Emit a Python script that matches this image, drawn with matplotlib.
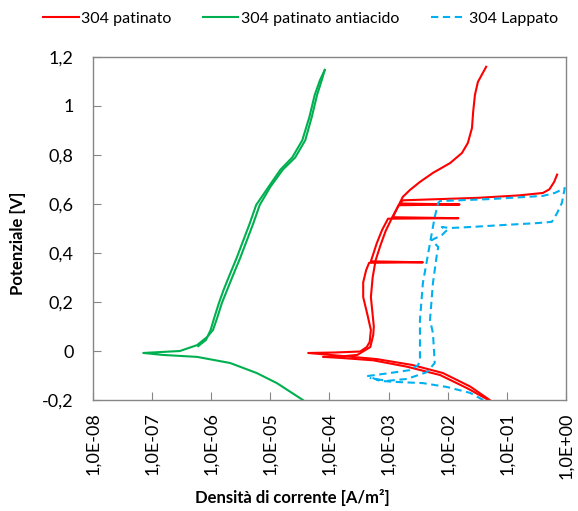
import numpy as np
import matplotlib
matplotlib.use("Agg")
import matplotlib.pyplot as plt
from matplotlib.ticker import FixedLocator, FixedFormatter

plt.rcParams['font.family'] = ['Lato', 'DejaVu Sans']

# log10 della densità di corrente [A/m2] e potenziale [V]
# 304 patinato: ramo A (catodico + anodico con picchi) e ramo B (ritorno)
red_a_log = [-1.29, -1.62, -2.08, -2.60, -3.20, -3.80, -4.36, -3.90, -3.48, -3.37, -3.32,
             -3.30, -3.36, -3.43, -3.43, -3.38, -3.33, -2.42, -3.30, -3.20, -3.11, -3.01,
             -1.82, -2.93, -2.83, -1.80, -2.81, -2.76, -1.50, -0.80, -0.39, -0.28, -0.20, -0.15]
red_a_E = [-0.20, -0.145, -0.09, -0.057, -0.033, -0.02, -0.008, -0.006, -0.002, 0.016, 0.037,
           0.086, 0.15, 0.22, 0.28, 0.33, 0.36, 0.362, 0.366, 0.44, 0.494, 0.54,
           0.542, 0.546, 0.595, 0.598, 0.602, 0.615, 0.625, 0.635, 0.645, 0.66, 0.69, 0.72]
red_b_log = [-1.35, -1.49, -1.54, -1.57, -1.59, -1.66, -1.76, -1.96, -2.25, -2.47, -2.64,
             -2.76, -2.84, -2.94, -3.05, -3.14, -3.22, -3.27, -3.30, -3.25, -3.26, -3.31,
             -3.53, -3.80, -4.11, -3.82, -3.26, -2.69, -2.13, -1.67, -1.31]
red_b_E = [1.16, 1.098, 1.045, 0.976, 0.91, 0.849, 0.808, 0.767, 0.727, 0.69, 0.657,
           0.629, 0.59, 0.545, 0.49, 0.43, 0.37, 0.30, 0.22, 0.10, 0.065, 0.016,
           -0.016, -0.022, -0.024, -0.028, -0.038, -0.064, -0.098, -0.152, -0.20]

# 304 patinato antiacido
green_a_log = [-4.45, -4.89, -5.23, -5.68, -6.24, -6.82, -7.15, -6.53, -6.24, -6.07, -5.97,
               -5.90, -5.82, -5.73, -5.63, -5.51, -5.40, -5.29, -5.18, -5.00, -4.79, -4.58,
               -4.41, -4.30, -4.21, -4.13, -4.08]
green_a_E = [-0.20, -0.131, -0.09, -0.049, -0.024, -0.016, -0.008, 0.0, 0.024, 0.057, 0.086,
             0.135, 0.196, 0.25, 0.31, 0.38, 0.45, 0.52, 0.596, 0.67, 0.74, 0.79,
             0.86, 0.955, 1.045, 1.106, 1.147]
green_b_log = [-4.08, -4.16, -4.25, -4.34, -4.46, -4.63, -4.83, -5.03, -5.24, -5.35, -5.46,
               -5.57, -5.69, -5.79, -5.87, -5.95, -6.01, -6.09, -6.22]
green_b_E = [1.147, 1.106, 1.045, 0.955, 0.86, 0.79, 0.74, 0.67, 0.596, 0.52, 0.45,
             0.38, 0.31, 0.25, 0.196, 0.135, 0.086, 0.045, 0.02]

# 304 Lappato
blue_log = [-1.40, -1.62, -2.01, -2.42, -2.81, -3.15, -3.35, -2.98, -2.64, -2.50, -2.47,
            -2.47, -2.42, -2.30, -2.22, -2.16, -2.13, -1.29, -0.39, -0.19, -0.02, -0.07,
            -0.15, -0.24, -0.49, -1.07, -1.62, -1.96, -2.10, -2.01, -2.10, -2.27, -2.16,
            -2.18, -2.25, -2.30, -2.25, -2.22, -2.35, -2.69, -3.03, -3.32]
blue_E = [-0.20, -0.171, -0.147, -0.131, -0.127, -0.122, -0.102, -0.09, -0.078, -0.057, -0.037,
          0.127, 0.278, 0.44, 0.547, 0.605, 0.612, 0.62, 0.633, 0.645, 0.665, 0.604,
          0.563, 0.527, 0.522, 0.514, 0.506, 0.502, 0.506, 0.494, 0.473, 0.453, 0.424,
          0.40, 0.278, 0.127, 0.073, -0.049, -0.086, -0.114, -0.122, -0.11]

x_ticks = [1e-8, 1e-7, 1e-6, 1e-5, 1e-4, 1e-3, 1e-2, 1e-1, 1e0]
x_labels = ["1,0E-08", "1,0E-07", "1,0E-06", "1,0E-05", "1,0E-04",
            "1,0E-03", "1,0E-02", "1,0E-01", "1,0E+00"]
y_ticks = [-0.2, 0, 0.2, 0.4, 0.6, 0.8, 1.0, 1.2]
y_labels = ["-0,2", "0", "0,2", "0,4", "0,6", "0,8", "1", "1,2"]

RED = "#FF0000"
GREEN = "#00B050"
BLUE = "#00B0F0"

fig = plt.figure(figsize=(5.78, 5.11), dpi=100)
ax = fig.add_axes([0.1609, 0.2172, 0.8183, 0.6713])

ax.plot(10 ** np.array(red_a_log), red_a_E, color=RED, lw=1.5, label="304 patinato")
ax.plot(10 ** np.array(red_b_log), red_b_E, color=RED, lw=1.5)
ax.plot(10 ** np.array(green_a_log), green_a_E, color=GREEN, lw=1.5, label="304 patinato antiacido")
ax.plot(10 ** np.array(green_b_log), green_b_E, color=GREEN, lw=1.5)
ax.plot(10 ** np.array(blue_log), blue_E, color=BLUE, lw=1.5, ls=(0, (3.5, 2.2)),
        label="304 Lappato")

ax.set_xscale("log")
ax.set_xlim(1e-8, 1)
ax.set_ylim(-0.2, 1.2)
ax.xaxis.set_major_locator(FixedLocator(x_ticks))
ax.xaxis.set_major_formatter(FixedFormatter(x_labels))
ax.xaxis.set_minor_locator(FixedLocator([]))
ax.set_yticks(y_ticks)
ax.set_yticklabels(y_labels)

for s in ax.spines.values():
    s.set_color("#868686")
    s.set_linewidth(1.0)
ax.tick_params(axis="both", direction="in", length=6, color="#868686",
               labelsize=13, labelcolor="black")
ax.tick_params(axis="x", labelrotation=90, pad=9)
ax.tick_params(axis="y", pad=14)

fig.text(0.505, 0.027, "Densità di corrente [A/m²]", fontsize=12, fontweight="bold",
         ha="center", va="center")
fig.text(0.031, 0.5245, "Potenziale [V]", fontsize=12, fontweight="bold",
         ha="center", va="center", rotation=90)

fig.legend(loc="upper center", bbox_to_anchor=(0.52, 1.005), ncol=3, frameon=False,
           fontsize=11.5, handlelength=2.2, handletextpad=0.15, columnspacing=2.0)

fig.savefig("out.png", dpi=100)
